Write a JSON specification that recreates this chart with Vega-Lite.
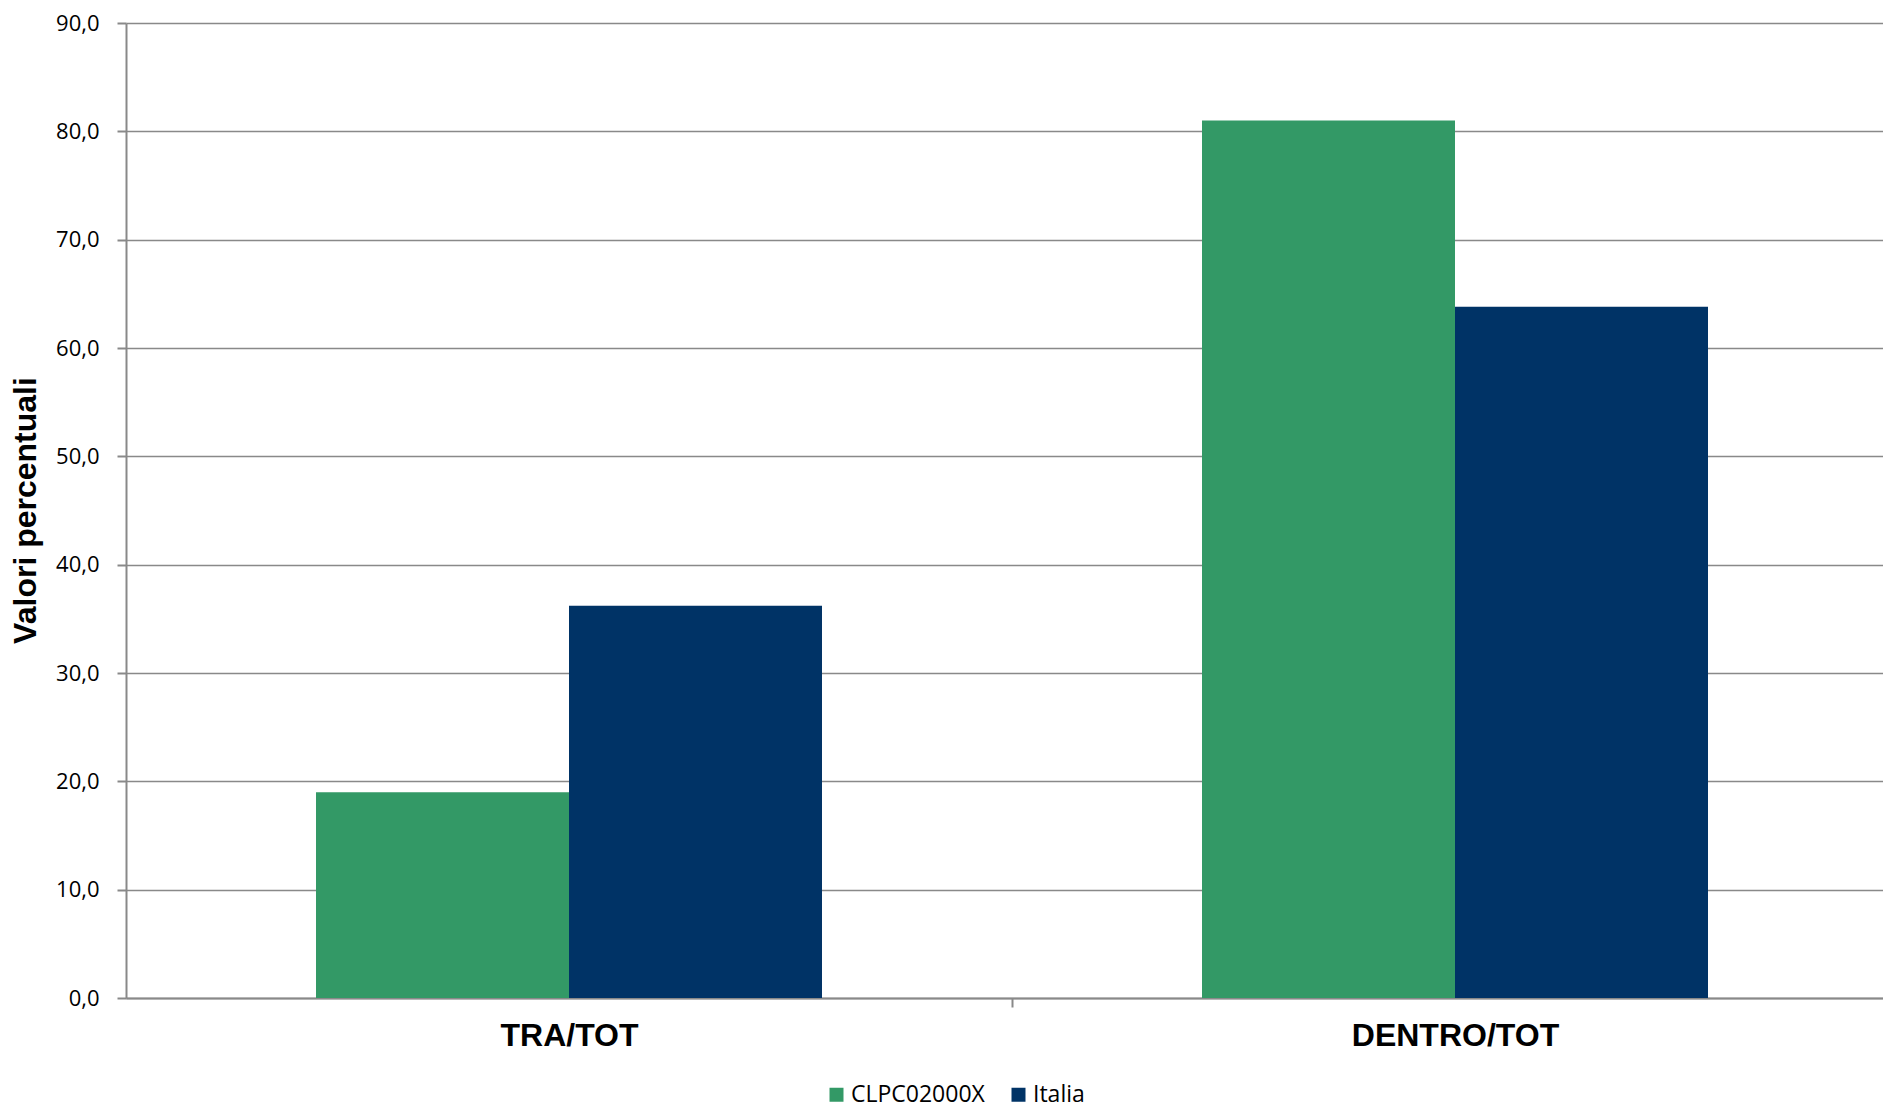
{
  "$schema": "https://vega.github.io/schema/vega-lite/v6.json",
  "autosize": {"type": "none"},
  "width": 1757,
  "height": 975,
  "padding": {"left": 126, "top": 23, "right": 0, "bottom": 111},
  "background": "white",
  "config": {
    "view": {"stroke": null},
    "font": "Open Sans"
  },
  "data": {
    "values": [
      {"categoria": "TRA/TOT", "serie": "CLPC02000X", "valore": 19.0},
      {"categoria": "TRA/TOT", "serie": "Italia", "valore": 36.2},
      {"categoria": "DENTRO/TOT", "serie": "CLPC02000X", "valore": 81.0},
      {"categoria": "DENTRO/TOT", "serie": "Italia", "valore": 63.8}
    ]
  },
  "mark": {"type": "bar"},
  "encoding": {
    "x": {
      "field": "categoria",
      "type": "nominal",
      "sort": ["TRA/TOT", "DENTRO/TOT"],
      "scale": {"range": [0, 1772], "paddingInner": 0.4289, "paddingOuter": 0.21445},
      "axis": {
        "title": null,
        "labelAngle": 0,
        "labelFont": "Liberation Sans",
        "labelFontWeight": "bold",
        "labelFontSize": 32,
        "labelColor": "black",
        "labelLimit": 0,
        "labelPadding": 13,
        "labelOffset": -443,
        "domain": true,
        "domainColor": "#898989",
        "domainWidth": 2,
        "ticks": true,
        "tickSize": 9,
        "tickColor": "#898989",
        "tickWidth": 2,
        "tickOffset": 443,
        "grid": false
      }
    },
    "xOffset": {
      "field": "serie",
      "type": "nominal",
      "sort": ["CLPC02000X", "Italia"],
      "scale": {"paddingInner": 0, "paddingOuter": 0}
    },
    "y": {
      "field": "valore",
      "type": "quantitative",
      "scale": {"domain": [0, 90], "nice": false, "zero": true},
      "axis": {
        "title": "Valori percentuali",
        "titleFont": "Liberation Sans",
        "titleFontWeight": "bold",
        "titleFontSize": 32,
        "titleColor": "black",
        "titleX": -84,
        "titleY": 487,
        "titleAngle": -90,
        "titleBaseline": "bottom",
        "values": [0, 10, 20, 30, 40, 50, 60, 70, 80, 90],
        "labelExpr": "replace(format(datum.value, '.1f'), '.', ',')",
        "labelFontSize": 22,
        "labelColor": "black",
        "labelPadding": 18,
        "domain": true,
        "domainColor": "#898989",
        "domainWidth": 2,
        "ticks": true,
        "tickSize": 9,
        "tickColor": "#898989",
        "tickWidth": 2,
        "grid": true,
        "gridColor": "#898989",
        "gridWidth": 1.6
      }
    },
    "color": {
      "field": "serie",
      "type": "nominal",
      "sort": ["CLPC02000X", "Italia"],
      "scale": {"domain": ["CLPC02000X", "Italia"], "range": ["#339966", "#003366"]},
      "legend": {
        "title": null,
        "orient": "none",
        "direction": "horizontal",
        "legendX": 699,
        "legendY": 1060,
        "padding": 0,
        "symbolType": "square",
        "symbolSize": 196,
        "symbolStrokeWidth": 0,
        "labelFontSize": 23,
        "labelColor": "black",
        "labelOffset": 3,
        "columnPadding": 22
      }
    }
  }
}
